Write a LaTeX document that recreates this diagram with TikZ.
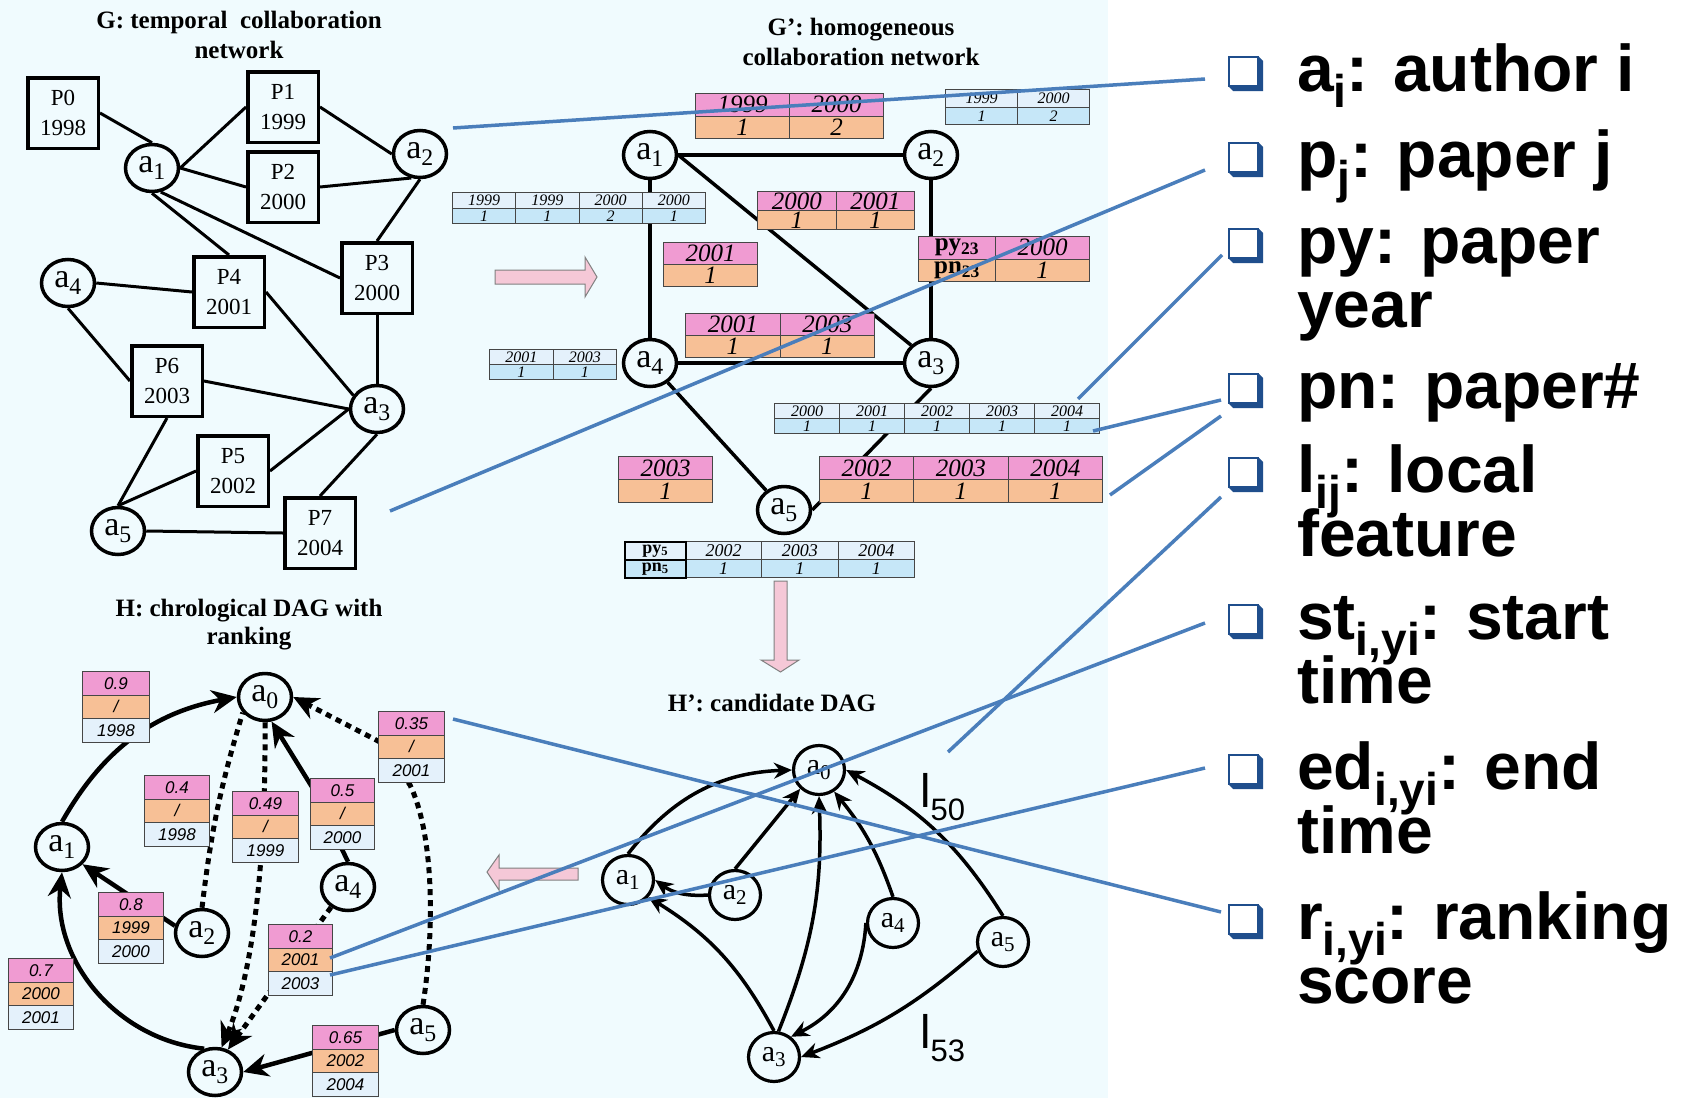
\documentclass[tikz,border=0pt]{standalone}
\usepackage{fontspec}
\setmainfont{Liberation Serif}
\newfontfamily\sansf{Liberation Sans}
\usetikzlibrary{arrows.meta,shapes.geometric}
\pgfdeclarelayer{under}
\pgfsetlayers{under,main}

\definecolor{panelbg}{RGB}{240,251,254}
\definecolor{cpink}{RGB}{240,155,210}
\definecolor{corange}{RGB}{247,192,150}
\definecolor{cbluetop}{RGB}{228,241,251}
\definecolor{cbluebot}{RGB}{198,231,248}
\definecolor{cellrule}{RGB}{70,70,70}
\definecolor{leadblue}{RGB}{74,126,187}
\definecolor{bulletblue}{RGB}{31,78,140}
\definecolor{arrowpink}{RGB}{245,200,215}

% one table cell: style, name, corner, width, height, text
\newcommand\tc[6]{\node[tcell,#1,minimum width=#4pt,minimum height=#5pt] (#2) at (#3) {#6};}
% two-row table: name, x, y, column width, row height, top style, bottom style, list
\newcommand\twotab[8]{\foreach \ci/\cA/\cB in {#8}{%
  \tc{#6}{#1u\ci}{{#2+(\ci-1)*#4},{#3}}{#4}{#5}{\cA}%
  \tc{#7}{#1v\ci}{{#2+(\ci-1)*#4},{#3+#5}}{#4}{#5}{\cB}}}
% three-row ranking table: name, x, y, width, score, start, end
\newcommand\htab[7]{%
  \tc{hpk}{#1a}{{#2},{#3}}{#4}{23.5}{#5}%
  \tc{hor}{#1b}{{#2},{#3+23.5}}{#4}{23.5}{#6}%
  \tc{hbl}{#1c}{{#2},{#3+47}}{#4}{23.5}{#7}}
\newcommand\lgsub[1]{\raisebox{-16pt}{\fontsize{46}{46}\selectfont #1}}
\newcommand\lbullet[2]{%
  \fill[bulletblue] (1258,{#2}) -- (1263,{#2+5}) -- (1263,{#2+35}) -- (1233,{#2+35}) -- (1228,{#2+30}) -- cycle;
  \filldraw[fill=white, draw=bulletblue, line width=1.5pt] (1228.75,{#2+0.75}) rectangle (1258,{#2+30});
  \coordinate (#1) at (1228,{#2+17});}

\begin{document}
\begin{tikzpicture}[x=1pt,y=-1pt,
  gbox/.style={draw, line width=3.5pt, minimum width=70.5pt, minimum height=70.5pt, inner sep=0pt, align=center, fill=panelbg, font=\fontsize{23}{30}\selectfont},
  auth/.style={ellipse, draw, line width=3.5pt, minimum width=53pt, minimum height=47pt, inner sep=0pt, fill=panelbg, font=\fontsize{34}{34}\selectfont},
  qauth/.style={auth, minimum width=51pt, minimum height=49pt, line width=3.2pt, font=\fontsize{30}{30}\selectfont},
  gedge/.style={line width=3pt},
  pedge/.style={line width=3.5pt},
  harr/.style={line width=4.5pt, -{Stealth[length=25pt,width=23pt]}},
  hdot/.style={line width=5pt, dash pattern=on 6pt off 5pt},
  hdotarr/.style={hdot, -{Stealth[length=25pt,width=23pt]}},
  qarr/.style={line width=3.5pt, -{Stealth[length=18pt,width=16pt]}},
  tcell/.style={draw=cellrule, line width=1pt, inner sep=0pt, anchor=north west},
  bigtop/.style={fill=cpink, font=\fontsize{25}{25}\selectfont\itshape},
  bigbot/.style={fill=corange, font=\fontsize{25}{25}\selectfont\itshape},
  smtop/.style={fill=cbluetop, font=\fontsize{16}{16}\selectfont\itshape},
  smbot/.style={fill=cbluebot, font=\fontsize{16}{16}\selectfont\itshape},
  midtop/.style={fill=cbluetop, font=\fontsize{18}{18}\selectfont\itshape},
  midbot/.style={fill=cbluebot, font=\fontsize{18}{18}\selectfont\itshape},
  pyhead/.style={draw=black, line width=1.6pt, font=\bfseries\fontsize{18}{18}\selectfont},
  hpk/.style={fill=cpink, font=\sansf\itshape\fontsize{17}{17}\selectfont},
  hor/.style={fill=corange, font=\sansf\itshape\fontsize{17}{17}\selectfont},
  hbl/.style={fill=cbluetop, font=\sansf\itshape\fontsize{17}{17}\selectfont},
  ttl/.style={align=center, inner sep=0pt, font=\bfseries\fontsize{25}{30}\selectfont},
  lgtext/.style={anchor=base west, inner sep=0pt, font=\sansf\bfseries\fontsize{66}{66}\selectfont},
  lfeat/.style={anchor=base west, inner sep=0pt, font=\sansf\fontsize{47}{47}\selectfont},
  lead/.style={draw=leadblue, line width=3.5pt},
  parrow/.style={fill=arrowpink, draw=black!50, line width=1pt}
]
\useasboundingbox (0,0) rectangle (1684,1098);
\begin{pgfonlayer}{under}
  \fill[white] (0,0) rectangle (1684,1098);
  \fill[panelbg] (0,0) rectangle (1108,1098);
\end{pgfonlayer}

% ---------- G: temporal collaboration network ----------
\node[ttl] (tG) at (239,35) {G: temporal\ \ collaboration\\network};
\node[gbox] (P0) at (63,113) {P0\\1998};
\node[gbox] (P1) at (283,107) {P1\\1999};
\node[gbox] (P2) at (283,187) {P2\\2000};
\node[gbox] (P3) at (377,278) {P3\\2000};
\node[gbox] (P4) at (229,292) {P4\\2001};
\node[gbox] (P6) at (167,381) {P6\\2003};
\node[gbox] (P5) at (233,471) {P5\\2002};
\node[gbox] (P7) at (320,533) {P7\\2004};
\node[auth] (Ga1) at (152,168) {a\textsubscript{1}};
\node[auth] (Ga2) at (420,154) {a\textsubscript{2}};
\node[auth] (Ga4) at (68,283) {a\textsubscript{4}};
\node[auth] (Ga3) at (377,409) {a\textsubscript{3}};
\node[auth] (Ga5) at (118,531) {a\textsubscript{5}};
\begin{pgfonlayer}{under}
  \draw[gedge] (P0.east) -- (Ga1.north);
  \draw[gedge] (Ga1.east) -- (P1.west);
  \draw[gedge] (Ga1.east) -- (P2.west);
  \draw[gedge] (P1.east) -- (Ga2.west);
  \draw[gedge] (P2.east) -- (Ga2.250);
  \draw[gedge] (Ga2.south) -- (P3.north);
  \draw[gedge] (Ga1.south) -- (P4.north);
  \draw[gedge] (Ga1.-70) -- (P3.west);
  \draw[gedge] (Ga4.east) -- (P4.west);
  \draw[gedge] (P4.east) -- (Ga3.150);
  \draw[gedge] (P3.south) -- (Ga3.north);
  \draw[gedge] (Ga4.south) -- (P6.west);
  \draw[gedge] (P6.east) -- (Ga3.west);
  \draw[gedge] (P6.south) -- (Ga5.north);
  \draw[gedge] (Ga5.north) -- (P5.west);
  \draw[gedge] (P5.east) -- (Ga3.west);
  \draw[gedge] (P7.north) -- (Ga3.south);
  \draw[gedge] (Ga5.east) -- (P7.west);
\end{pgfonlayer}

% ---------- G': homogeneous collaboration network ----------
\node[ttl] (tGp) at (861,42) {G’: homogeneous\\collaboration network};
\node[auth] (Pa1) at (650,155) {a\textsubscript{1}};
\node[auth] (Pa2) at (931,155) {a\textsubscript{2}};
\node[auth] (Pa4) at (650,363) {a\textsubscript{4}};
\node[auth] (Pa3) at (931,363) {a\textsubscript{3}};
\node[auth] (Pa5) at (784,510) {a\textsubscript{5}};
\begin{pgfonlayer}{under}
  \draw[pedge] (Pa1) -- (Pa2);
  \draw[pedge] (Pa1) -- (Pa4);
  \draw[pedge] (Pa1.east) -- (Pa3.north west);
  \draw[pedge] (Pa2) -- (Pa3);
  \draw[pedge] (Pa4) -- (Pa3);
  \draw[pedge] (Pa4) -- (Pa5);
  \draw[pedge] (Pa3.south) -- (Pa5.east);
\end{pgfonlayer}
\twotab{tA}{695}{93}{94}{22.5}{bigtop}{bigbot}{1/1999/1,2/2000/2}
\twotab{tB}{945}{89}{72}{17.5}{smtop}{smbot}{1/1999/1,2/2000/2}
\twotab{tC}{452}{192}{63.25}{15.5}{smtop}{smbot}{1/1999/1,2/1999/1,3/2000/2,4/2000/1}
\twotab{tD}{757}{191}{78.5}{19}{bigtop}{bigbot}{1/2000/1,2/2001/1}
\twotab{tE}{663}{242}{94}{22}{bigtop}{bigbot}{1/2001/1}
\tc{bigtop}{tFu1}{918,236}{77}{22.5}{\upshape\bfseries py\textsubscript{23}}
\tc{bigtop}{tFu2}{995,236}{94}{22.5}{2000}
\tc{bigbot}{tFv1}{918,258.5}{77}{22.5}{\upshape\bfseries pn\textsubscript{23}}
\tc{bigbot}{tFv2}{995,258.5}{94}{22.5}{1}
\twotab{tG}{685}{313}{94.5}{22}{bigtop}{bigbot}{1/2001/1,2/2003/1}
\twotab{tH}{489}{349}{63.5}{15}{smtop}{smbot}{1/2001/1,2/2003/1}
\twotab{tI}{774}{403}{65}{15}{smtop}{smbot}{1/2000/1,2/2001/1,3/2002/1,4/2003/1,5/2004/1}
\twotab{tJ}{618}{456}{94}{23}{bigtop}{bigbot}{1/2003/1}
\twotab{tK}{819}{456}{94.3}{23}{bigtop}{bigbot}{1/2002/1,2/2003/1,3/2004/1}
\twotab{tL}{685}{541}{76.3}{18}{midtop}{midbot}{1/2002/1,2/2003/1,3/2004/1}
\tc{pyhead,fill=cbluetop}{tLh1}{624,541}{61}{18}{py\textsubscript{5}}
\tc{pyhead,fill=cbluebot}{tLh2}{624,559}{61}{18}{pn\textsubscript{5}}

% transformation arrows
\draw[parrow] (495,270) -- (585,270) -- (585,257) -- (597,277) -- (585,297) -- (585,284) -- (495,284) -- cycle;
\draw[parrow] (774,581) -- (787,581) -- (787,660) -- (799,660) -- (780.5,672) -- (761,660) -- (774,660) -- cycle;
\draw[parrow] (578,868) -- (499,868) -- (499,855) -- (487,872) -- (499,890) -- (499,880) -- (578,880) -- cycle;

% ---------- H: chronological DAG with ranking ----------
\node[ttl, font=\bfseries\fontsize{25}{28}\selectfont] (tH) at (249,625) {H: chrological DAG with\\ranking};
\node[auth] (Ha0) at (265,697) {a\textsubscript{0}};
\node[auth] (Ha1) at (62,847) {a\textsubscript{1}};
\node[auth] (Ha2) at (202,933) {a\textsubscript{2}};
\node[auth] (Ha4) at (348,887) {a\textsubscript{4}};
\node[auth] (Ha3) at (215,1072) {a\textsubscript{3}};
\node[auth] (Ha5) at (423,1030) {a\textsubscript{5}};
\begin{pgfonlayer}{under}
  \draw[harr] (Ha1.north) to[bend left=25] (Ha0.west);
  \draw[harr] (Ha2.165) -- (Ha1.-40);
  \draw[harr] (Ha3.115) to[bend left=45] (Ha1.south);
  \draw[hdot] (Ha2.north) to[bend left=5] (Ha0.215);
  \draw[hdotarr] (Ha0.south) .. controls (266,880) and (250,980) .. (Ha3.75);
  \draw[harr] (Ha4.north) -- (312,787) -- (Ha0.-75);
  \draw[hdotarr] (Ha5.north) .. controls (436,920) and (432,830) .. (410,785) -- (380,742) -- (Ha0.east);
  \draw[harr] (Ha5.west) -- (Ha3.east);
  \draw[hdotarr] (Ha4.230) -- (Ha3.60);
\end{pgfonlayer}
\htab{hA}{82}{671}{67}{0.9}{/}{1998}
\htab{hB}{144}{775}{65}{0.4}{/}{1998}
\htab{hC}{232}{791}{66}{0.49}{/}{1999}
\htab{hD}{310}{778}{64}{0.5}{/}{2000}
\htab{hE}{378}{711}{66}{0.35}{/}{2001}
\htab{hF}{98}{892}{65}{0.8}{1999}{2000}
\htab{hG}{8}{958}{65}{0.7}{2000}{2001}
\htab{hH}{268}{924}{64}{0.2}{2001}{2003}
\htab{hI}{312}{1025}{66}{0.65}{2002}{2004}

% ---------- H': candidate DAG ----------
\node[ttl] (tHp) at (772,703) {H’: candidate DAG};
\node[qauth] (Qa0) at (819,770) {a\textsubscript{0}};
\node[qauth] (Qa1) at (628,880) {a\textsubscript{1}};
\node[qauth] (Qa2) at (735,895) {a\textsubscript{2}};
\node[qauth] (Qa4) at (893,923) {a\textsubscript{4}};
\node[qauth] (Qa5) at (1003,942) {a\textsubscript{5}};
\node[qauth] (Qa3) at (774,1057) {a\textsubscript{3}};
\draw[qarr] (Qa1.north) to[bend left=25] (Qa0.west);
\draw[qarr] (Qa2.north) -- (Qa0.225);
\draw[qarr] (Qa2.west) to[bend left=20] (Qa1.east);
\draw[qarr] (Qa3.north) to[bend right=15] (Qa1.-40);
\draw[qarr] (Qa3.80) to[bend right=12] (Qa0.south);
\draw[qarr] (Qa4.west) to[bend left=30] (Qa3.50);
\draw[qarr] (Qa4.north) to[bend right=10] (Qa0.-55);
\draw[qarr] (Qa5.north) to[bend right=15] (Qa0.east);
\draw[qarr] (Qa5.200) to[bend left=10] (Qa3.east);
\node[lfeat] (l50) at (920,807) {l\raisebox{-13pt}{\fontsize{31}{31}\selectfont 50}};
\node[lfeat] (l53) at (920,1048) {l\raisebox{-13pt}{\fontsize{31}{31}\selectfont 53}};

% ---------- legend ----------
\lbullet{Ba}{56}
\lbullet{Bp}{142}
\lbullet{Bpy}{228}
\lbullet{Bpn}{373}
\lbullet{Bl}{457}
\lbullet{Bst}{604}
\lbullet{Bed}{754}
\lbullet{Br}{904}
\node[lgtext] (La1) at (1297,91) {a\lgsub{i}: author i};
\node[lgtext] (Lp1) at (1297,177) {p\lgsub{j}: paper j};
\node[lgtext] (Lpy1) at (1297,263) {py: paper};
\node[lgtext] (Lpy2) at (1297,327) {year};
\node[lgtext] (Lpn1) at (1297,408) {pn: paper\#};
\node[lgtext] (Ll1) at (1297,492) {l\lgsub{ij}: local};
\node[lgtext] (Ll2) at (1297,556) {feature};
\node[lgtext] (Lst1) at (1297,639) {st\lgsub{i,yi}: start};
\node[lgtext] (Lst2) at (1297,703) {time};
\node[lgtext] (Led1) at (1297,789) {ed\lgsub{i,yi}: end};
\node[lgtext] (Led2) at (1297,853) {time};
\node[lgtext] (Lr1) at (1297,939) {r\lgsub{i,yi}: ranking};
\node[lgtext] (Lr2) at (1297,1003) {score};

% leader lines from the legend into the diagrams
\coordinate (ea) at (453,128);   \coordinate (fa) at (1205,79);
\coordinate (ep) at (390,511);   \coordinate (fp) at (1205,170);
\coordinate (epy) at (1078,399); \coordinate (fpy) at (1222,255);
\coordinate (epn) at (1093,431); \coordinate (fpn) at (1221,400);
\coordinate (epm) at (1110,495); \coordinate (fpm) at (1221,416);
\coordinate (el) at (948,752);   \coordinate (fl) at (1221,497);
\coordinate (est) at (330,958);  \coordinate (fst) at (1205,623);
\coordinate (eed) at (330,975);  \coordinate (fed) at (1205,768);
\coordinate (er) at (453,719);   \coordinate (fr) at (1221,912);
\draw[lead] (ea) -- (fa);
\draw[lead] (ep) -- (fp);
\draw[lead] (epy) -- (fpy);
\draw[lead] (epn) -- (fpn);
\draw[lead] (epm) -- (fpm);
\draw[lead] (el) -- (fl);
\draw[lead] (est) -- (fst);
\draw[lead] (eed) -- (fed);
\draw[lead] (er) -- (fr);
\end{tikzpicture}
\end{document}
